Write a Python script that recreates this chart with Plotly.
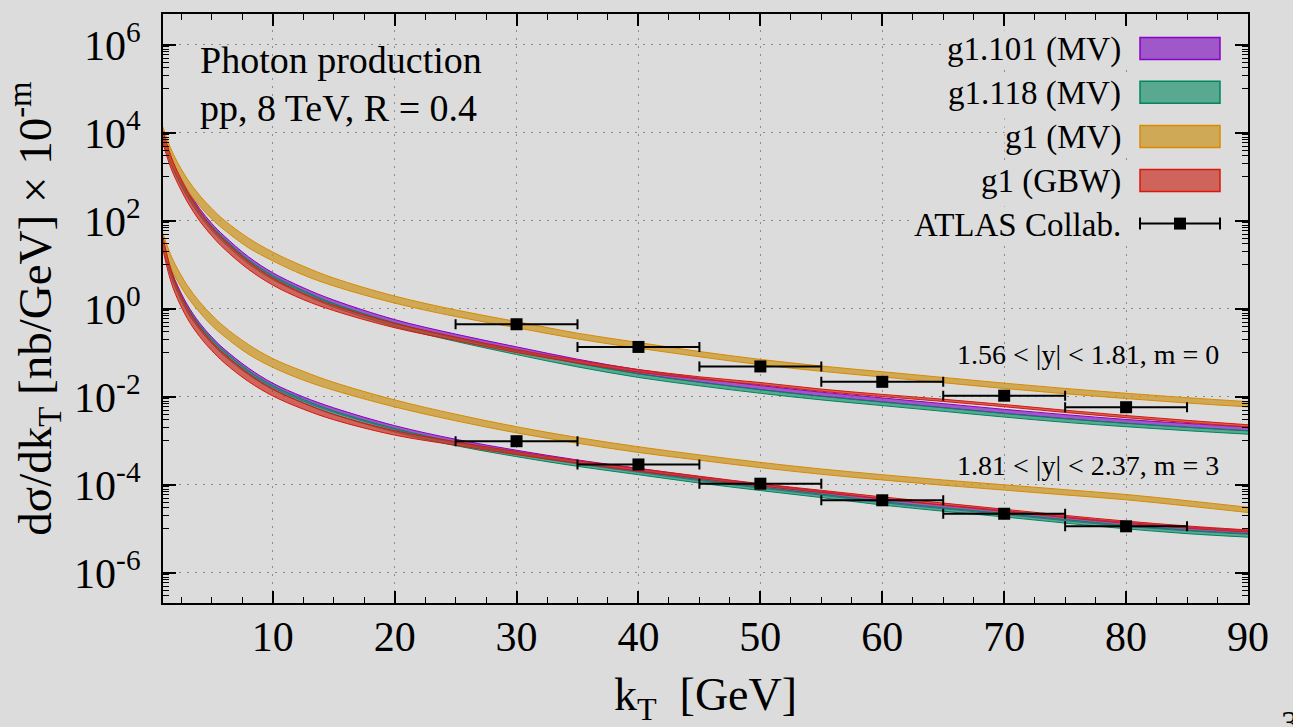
import plotly.graph_objects as go

# ---------------- data (log10 of displayed dσ/dkT, incl. factor 10^-m) ----------------
kt = [1, 1.5, 2, 3, 4, 5, 6, 8, 10, 12.5, 15, 20, 25, 30, 35, 40, 45, 50, 55, 60, 65, 70, 75, 80, 85, 90]

# upper set: 1.56 < |y| < 1.81, m = 0
up_mv101 = [3.93, 3.50, 3.16, 2.64, 2.22, 1.88, 1.60, 1.13, 0.77, 0.43, 0.15, -0.29, -0.62, -0.91, -1.19, -1.43,
            -1.62, -1.79, -1.94, -2.07, -2.20, -2.33, -2.45, -2.56, -2.65, -2.73]
up_mv118 = [3.92, 3.48, 3.13, 2.60, 2.17, 1.83, 1.55, 1.07, 0.71, 0.37, 0.08, -0.36, -0.70, -1.00, -1.28, -1.52,
            -1.71, -1.88, -2.03, -2.16, -2.29, -2.42, -2.54, -2.64, -2.73, -2.81]
up_g1mv = [3.97, 3.59, 3.29, 2.82, 2.46, 2.16, 1.91, 1.50, 1.19, 0.87, 0.61, 0.21, -0.10, -0.36, -0.62, -0.83,
           -1.03, -1.21, -1.36, -1.49, -1.62, -1.75, -1.87, -1.98, -2.08, -2.17]
up_gbw = [3.90, 3.45, 3.10, 2.55, 2.11, 1.76, 1.47, 0.99, 0.62, 0.28, 0.02, -0.38, -0.68, -0.96, -1.20, -1.41,
          -1.57, -1.70, -1.85, -1.97, -2.08, -2.20, -2.33, -2.45, -2.56, -2.66]

# lower set: 1.81 < |y| < 2.37, m = 3
lo_mv101 = [1.50, 0.97, 0.58, 0.02, -0.38, -0.70, -0.97, -1.40, -1.74, -2.05, -2.30, -2.70, -3.01, -3.26, -3.48,
            -3.67, -3.86, -4.03, -4.19, -4.36, -4.50, -4.63, -4.77, -4.90, -5.00, -5.08]
lo_mv118 = [1.49, 0.95, 0.55, -0.02, -0.42, -0.74, -1.01, -1.45, -1.79, -2.10, -2.36, -2.76, -3.07, -3.32, -3.54,
            -3.73, -3.92, -4.09, -4.25, -4.42, -4.56, -4.69, -4.83, -4.96, -5.07, -5.15]
lo_g1mv = [1.55, 1.17, 0.87, 0.40, 0.04, -0.26, -0.51, -0.92, -1.23, -1.52, -1.76, -2.15, -2.47, -2.75, -2.99,
           -3.20, -3.38, -3.55, -3.70, -3.83, -3.95, -4.06, -4.17, -4.28, -4.42, -4.57]
lo_gbw = [1.48, 0.90, 0.48, -0.10, -0.52, -0.85, -1.12, -1.56, -1.90, -2.21, -2.46, -2.82, -3.06, -3.28, -3.48,
          -3.66, -3.83, -4.00, -4.15, -4.30, -4.44, -4.58, -4.72, -4.85, -4.96, -5.05]

# band half-widths (decades)
hw_mv101 = [0.08, 0.08, 0.07, 0.07, 0.06, 0.06, 0.06, 0.055, 0.05, 0.05, 0.05, 0.045, 0.045, 0.045, 0.045, 0.045,
            0.045, 0.045, 0.045, 0.045, 0.045, 0.045, 0.045, 0.045, 0.045, 0.045]
hw_mv118 = [0.07, 0.07, 0.06, 0.06, 0.05, 0.05, 0.05, 0.045, 0.045, 0.04, 0.04, 0.04, 0.04, 0.04, 0.04, 0.04,
            0.04, 0.04, 0.04, 0.04, 0.04, 0.04, 0.04, 0.04, 0.04, 0.04]
hw_g1mv = [0.16, 0.15, 0.14, 0.13, 0.12, 0.12, 0.11, 0.11, 0.10, 0.10, 0.09, 0.08, 0.075, 0.07, 0.065, 0.065,
           0.06, 0.06, 0.06, 0.06, 0.06, 0.06, 0.06, 0.06, 0.06, 0.06]
hw_gbw = [0.14, 0.14, 0.13, 0.12, 0.11, 0.10, 0.10, 0.09, 0.08, 0.07, 0.06, 0.05, 0.04, 0.035, 0.03, 0.03,
          0.025, 0.025, 0.025, 0.025, 0.025, 0.025, 0.025, 0.025, 0.025, 0.025]

# ATLAS data
atlas_kt = [30, 40, 50, 60, 70, 80]
atlas_dkt = [5, 5, 5, 5, 5, 5]
atlas_up = [0.446, 0.136, 0.049, 0.0219, 0.0106, 0.0058]
atlas_lo = [9.8e-4, 2.9e-4, 1.06e-4, 4.45e-5, 2.2e-5, 1.14e-5]

labels = ["g1.101 (MV)", "g1.118 (MV)", "g1 (MV)", "g1 (GBW)", "ATLAS Collab."]
ytick_vals = [1e-6, 1e-4, 1e-2, 1e0, 1e2, 1e4, 1e6]
ytick_text = ["10<sup>-6</sup>", "10<sup>-4</sup>", "10<sup>-2</sup>", "10<sup>0</sup>",
              "10<sup>2</sup>", "10<sup>4</sup>", "10<sup>6</sup>"]
xtick_vals = [10, 20, 30, 40, 50, 60, 70, 80, 90]

# ---------------- styling ----------------
BG = "#dcdcdc"
FONT = "Liberation Serif"
styles = {
    "mv101": dict(fill="rgba(134,37,191,0.72)", edge="#8a00c8"),
    "mv118": dict(fill="rgba(37,149,114,0.72)", edge="#00855f"),
    "g1mv": dict(fill="rgba(203,149,34,0.72)", edge="#d98a00"),
    "gbw": dict(fill="rgba(203,54,43,0.72)", edge="#d8180c"),
}

W, H = 1293, 727
L, R, T, B = 163, 1248, 12, 603


def px(x):
    return (x - L) / (R - L)


def py(y):
    return (B - y) / (B - T)


fig = go.Figure()

bands = [
    ("mv101", up_mv101, lo_mv101, hw_mv101),
    ("mv118", up_mv118, lo_mv118, hw_mv118),
    ("g1mv", up_g1mv, lo_g1mv, hw_g1mv),
    ("gbw", up_gbw, lo_gbw, hw_gbw),
]
for key, up, lo, hw in bands:
    st = styles[key]
    for series in (up, lo):
        hi_v = [10 ** (v + h) for v, h in zip(series, hw)]
        lo_v = [10 ** (v - h) for v, h in zip(series, hw)]
        fig.add_trace(go.Scatter(x=kt, y=hi_v, mode="lines", line=dict(color=st["edge"], width=1, shape="spline"),
                                 showlegend=False, hoverinfo="skip"))
        fig.add_trace(go.Scatter(x=kt, y=lo_v, mode="lines", line=dict(color=st["edge"], width=1, shape="spline"),
                                 fill="tonexty", fillcolor=st["fill"], showlegend=False, hoverinfo="skip"))

for ys in (atlas_up, atlas_lo):
    fig.add_trace(go.Scatter(
        x=atlas_kt, y=ys, mode="markers",
        marker=dict(symbol="square", size=12, color="black"),
        error_x=dict(type="data", array=atlas_dkt, color="black", thickness=2, width=5),
        showlegend=False, hoverinfo="skip"))

# y minor ticks gnuplot-style: k*10^(odd), k=1..9
yminor = []
for e in (-7, -5, -3, -1, 1, 3, 5):
    for k in range(1, 10):
        v = k * 10 ** e
        if 10 ** -6.69 < v < 10 ** 6.7:
            yminor.append(v)

fig.update_layout(
    width=W, height=H,
    margin=dict(l=L, r=W - R, t=T, b=H - B),
    paper_bgcolor=BG, plot_bgcolor=BG,
    font=dict(family=FONT, color="black"),
    showlegend=False,
)

GRID = dict(showgrid=True, gridcolor="#8c8c8c", griddash="2px,6px", gridwidth=1.3)

fig.update_xaxes(
    range=[1, 90], tickvals=xtick_vals, ticks="inside", ticklen=12, tickwidth=1.8, tickcolor="black",
    showline=True, linecolor="black", linewidth=2, mirror="ticks",
    zeroline=False, tickfont=dict(size=42, family=FONT), ticklabelstandoff=-4,
    minor=dict(dtick=2.5, tick0=0, ticks="inside", ticklen=6, tickwidth=1.4, tickcolor="black", showgrid=False),
    title=dict(text="k<sub>T</sub> &nbsp;[GeV]", font=dict(size=46, family=FONT), standoff=21),
    **GRID,
)
fig.update_yaxes(
    type="log", range=[-6.686, 6.70], tickvals=ytick_vals, ticktext=ytick_text,
    ticks="inside", ticklen=13, tickwidth=1.8, tickcolor="black",
    showline=True, linecolor="black", linewidth=2, mirror="ticks",
    zeroline=False, tickfont=dict(size=42, family=FONT), ticklabelstandoff=12,
    minor=dict(tickmode="array", tickvals=yminor, ticks="inside", ticklen=6, tickwidth=1.4, tickcolor="black",
               showgrid=False),
    title=dict(text="dσ/dk<sub>T</sub> [nb/GeV] × 10<sup>-m</sup>", font=dict(size=47, family=FONT), standoff=8),
    **GRID,
)

ann = []
shapes = []
# top-left text
ann.append(dict(text="Photon production", x=px(198), y=py(58), xref="paper", yref="paper",
                xanchor="left", yanchor="middle", showarrow=False, font=dict(size=38, family=FONT)))
ann.append(dict(text="pp, 8 TeV, R = 0.4", x=px(198), y=py(106), xref="paper", yref="paper",
                xanchor="left", yanchor="middle", showarrow=False, font=dict(size=38, family=FONT)))
# region labels
ann.append(dict(text="1.56 < |y| < 1.81, m = 0", x=px(1221), y=py(354), xref="paper", yref="paper",
                xanchor="right", yanchor="middle", showarrow=False, font=dict(size=28, family=FONT)))
ann.append(dict(text="1.81 < |y| < 2.37, m = 3", x=px(1221), y=py(465), xref="paper", yref="paper",
                xanchor="right", yanchor="middle", showarrow=False, font=dict(size=28, family=FONT)))
# page number (cut at the bottom edge, as in the source page)
ann.append(dict(text="3", x=px(1279), y=py(702), xref="paper", yref="paper",
                xanchor="left", yanchor="top", showarrow=False, font=dict(size=34, family=FONT)))

# legend (custom)
rows = [46.7, 90.5, 135, 179, 222.3]
keys = ["mv101", "mv118", "g1mv", "gbw"]
for i, yc in enumerate(rows):
    shapes.append(dict(type="rect", xref="paper", yref="paper", x0=px(1118), x1=px(1232),
                       y0=py(yc - 20), y1=py(yc + 20), fillcolor=BG, line=dict(width=0), layer="above"))
    ann.append(dict(text=labels[i], x=px(1122), y=py(yc + 1), xref="paper", yref="paper",
                    xanchor="right", yanchor="middle", showarrow=False, bgcolor=BG, borderpad=0,
                    font=dict(size=33, family=FONT)))
    if i < 4:
        st = styles[keys[i]]
        shapes.append(dict(type="rect", xref="paper", yref="paper", x0=px(1140), x1=px(1220),
                           y0=py(yc - 11), y1=py(yc + 11), fillcolor=st["fill"],
                           line=dict(color=st["edge"], width=1.5), layer="above"))
    else:
        shapes.append(dict(type="line", xref="paper", yref="paper", x0=px(1140), x1=px(1220),
                           y0=py(yc), y1=py(yc), line=dict(color="black", width=2), layer="above"))
        for xc in (1140, 1220):
            shapes.append(dict(type="line", xref="paper", yref="paper", x0=px(xc), x1=px(xc),
                               y0=py(yc - 6), y1=py(yc + 6), line=dict(color="black", width=2), layer="above"))
        shapes.append(dict(type="rect", xref="paper", yref="paper", x0=px(1174), x1=px(1186),
                           y0=py(yc - 6), y1=py(yc + 6), fillcolor="black", line=dict(width=0), layer="above"))

fig.update_layout(annotations=ann, shapes=shapes)
fig.write_html("out.html")
